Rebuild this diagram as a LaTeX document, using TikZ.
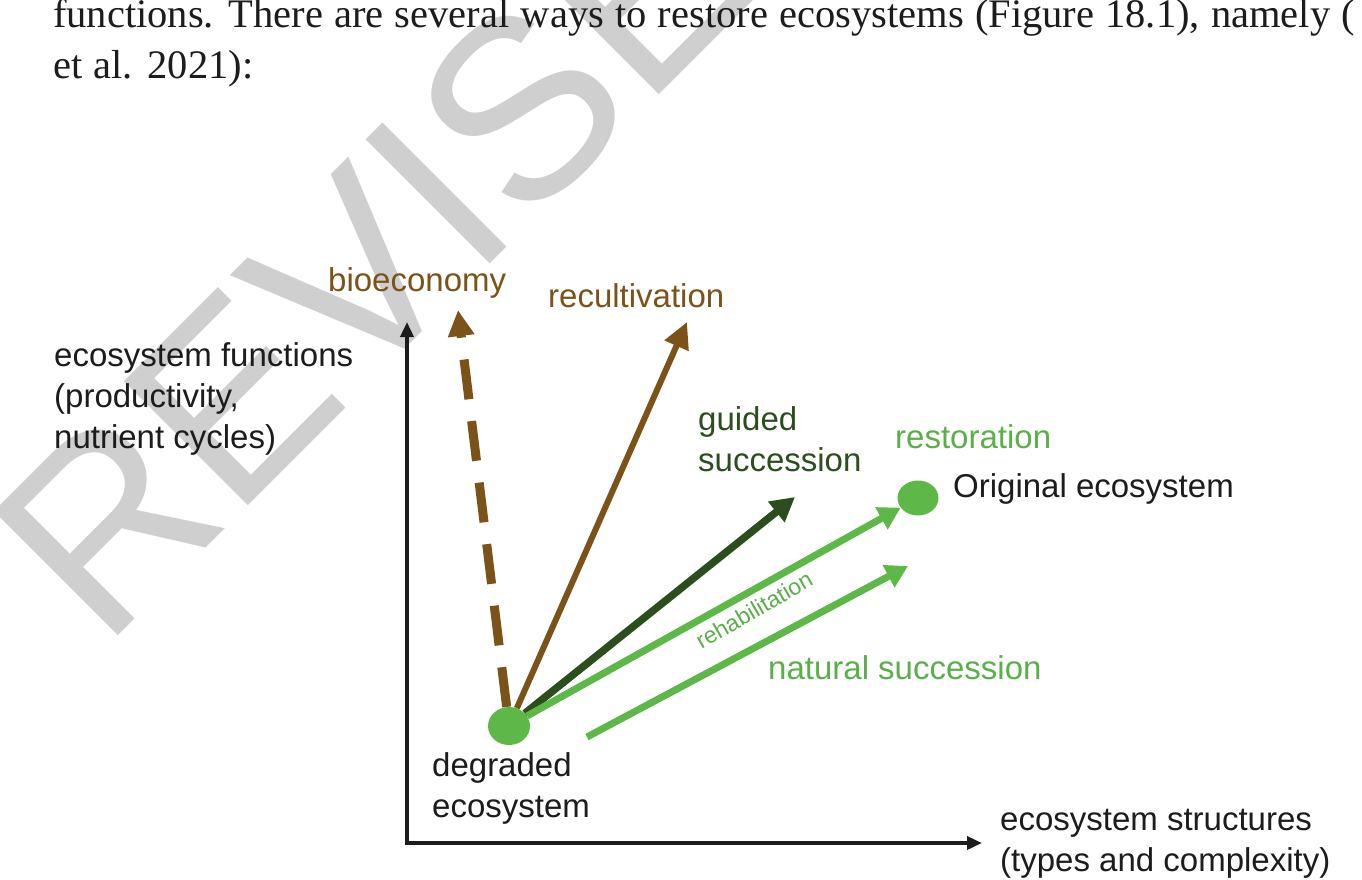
\documentclass[tikz,border=0pt]{standalone}
\usepackage{fontspec}
\setmainfont{Liberation Sans}
\newfontfamily\serifbody{Liberation Serif}
\usetikzlibrary{arrows.meta,shapes.geometric}
\definecolor{brownc}{HTML}{7B5217}
\definecolor{darkg}{HTML}{2C4D1E}
\definecolor{lightg}{HTML}{5DB847}
\definecolor{lightgt}{HTML}{5AAF49}
\definecolor{wmgray}{HTML}{CFCFCF}
\definecolor{ink}{HTML}{1C1C1C}
\newcommand\myparafont{\serifbody\fontsize{40.5}{51}\selectfont\spaceskip=11.2pt plus 2pt minus 1pt\relax}
\tikzset{
  lbl/.style={inner sep=0pt, anchor=base west, align=left, font=\fontsize{33}{41}\selectfont},
  dotnode/.style={ellipse, fill=lightg, draw=none, inner sep=0pt},
  axisline/.style={line width=3.5pt, draw=ink, {Triangle[length=15pt,width=13pt]}-{Triangle[length=15pt,width=13pt]}},
  bigarrow/.style={line width=6.5pt, -{Triangle[length=26pt,width=25pt]}},
}
\begin{document}
\begin{tikzpicture}[x=1pt,y=-1pt]
\fill[white] (0,0) rectangle (1362,879);
\useasboundingbox (0,0) rectangle (1362,879);
\clip (0,0) rectangle (1362,879);
% watermark
\node[anchor=base west, rotate=45, inner sep=0pt, text=wmgray, font=\fontsize{255}{255}\selectfont] (wm) at (103,651) {REVISE};
% paragraph text
\node[anchor=base west, inner sep=0pt, align=left, text=ink, font=\myparafont] (para) at (53,78) {functions. There are several ways to restore ecosystems (Figure 18.1), namely (\\et al. 2021):};
% axes
\coordinate (O) at (407,843);
\coordinate (ytip) at (407,322);
\coordinate (xtip) at (982,843);
\draw[axisline] (ytip) -- (O) -- (xtip);
% dots
\node[dotnode, minimum width=42pt, minimum height=38pt] (deg) at (509,726) {};
\node[dotnode, minimum width=41pt, minimum height=35pt] (orig) at (918,498) {};
% tips
\coordinate (biotip) at (458,310);
\coordinate (rectip) at (687,322);
\coordinate (guidtip) at (795,497);
\coordinate (ns1) at (587,737);
\coordinate (ns2) at (908,566);
% arrows
\draw[line width=9pt, draw=brownc, dash pattern=on 40pt off 22pt, -{Triangle[length=26pt,width=25pt]}] (deg) -- (biotip);
\draw[bigarrow, draw=brownc, line width=6pt] (deg) -- (rectip);
\draw[bigarrow, draw=darkg, line width=7.5pt, -{Triangle[length=24pt,width=25pt]}] (deg) -- (guidtip);
\draw[bigarrow, draw=lightg, line width=7pt, -{Triangle[length=22pt,width=24pt]}] (deg) -- (orig);
\draw[bigarrow, draw=lightg, line width=7pt, -{Triangle[length=22pt,width=24pt]}] (ns1) -- (ns2);
% labels (base = baseline of the last line)
\node[lbl, text=brownc] (lbio) at (328,291) {bioeconomy};
\node[lbl, text=brownc] (lrec) at (548,307) {recultivation};
\node[lbl, text=ink] (lyax) at (54,448) {ecosystem functions\\(productivity,\\nutrient cycles)};
\node[lbl, text=darkg] (lguid) at (698,471) {guided\\succession};
\node[lbl, text=lightgt] (lrest) at (895,448) {restoration};
\node[lbl, text=ink] (lorig) at (953,497) {Original ecosystem};
\node[lbl, text=lightgt] (lnat) at (768,679) {natural succession};
\node[lbl, text=ink] (ldeg) at (432,817) {degraded\\ecosystem};
\node[lbl, text=ink] (lxax) at (1000,871) {ecosystem structures\\(types and complexity)};
\node[rotate=30, inner sep=0pt, text=lightgt, font=\fontsize{23}{23}\selectfont] (lrehab) at (754,610) {rehabilitation};
\end{tikzpicture}
\end{document}
